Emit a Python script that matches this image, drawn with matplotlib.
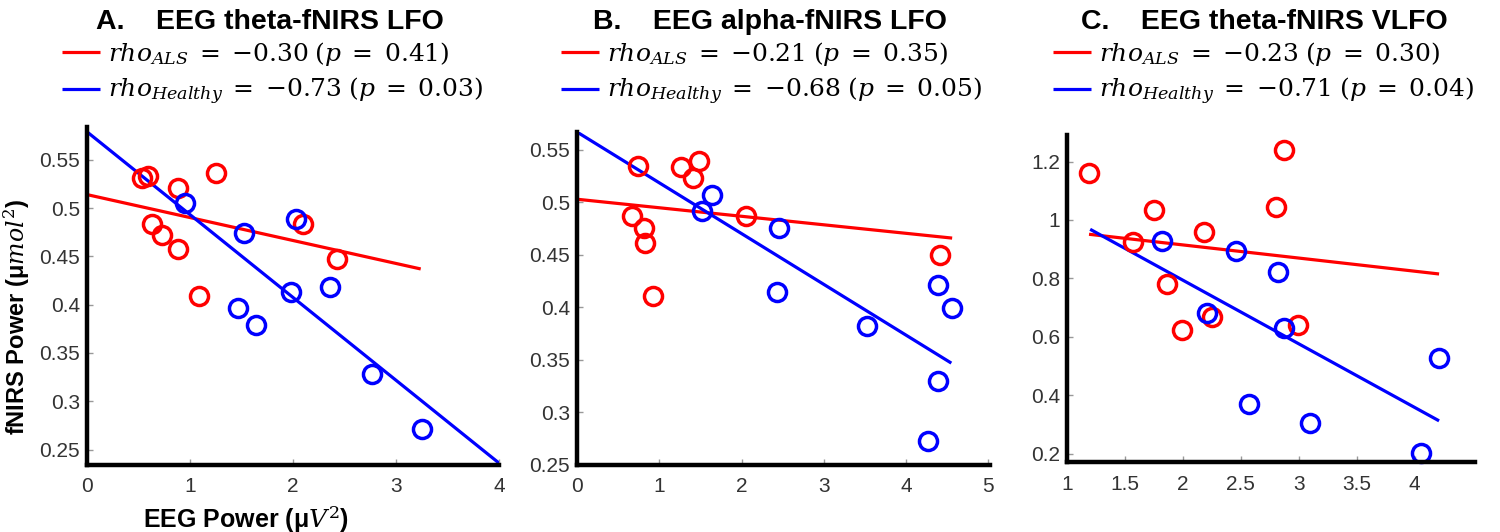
import numpy as np
import matplotlib
matplotlib.use('Agg')
import matplotlib.pyplot as plt
from matplotlib.ticker import FuncFormatter

plt.rcParams['font.family'] = 'Liberation Sans'
plt.rcParams['mathtext.fontset'] = 'dejavuserif'

# panel A: EEG theta - fNIRS LFO
a_als_x = [0.53, 0.59, 0.88, 1.25, 0.63, 0.73, 0.88, 1.09, 2.10, 2.43]
a_als_y = [0.531, 0.533, 0.521, 0.536, 0.484, 0.472, 0.458, 0.409, 0.484, 0.447]
a_hc_x = [0.95, 1.52, 2.03, 1.47, 1.64, 1.98, 2.36, 2.77, 3.25]
a_hc_y = [0.505, 0.474, 0.489, 0.397, 0.379, 0.413, 0.418, 0.328, 0.271]
a_als_fit_x = [0.0, 3.24]
a_als_fit_y = [0.514, 0.437]
a_hc_fit_x = [0.0, 4.0]
a_hc_fit_y = [0.579, 0.236]

# panel B: EEG alpha - fNIRS LFO
b_als_x = [0.74, 1.26, 1.48, 1.41, 0.67, 0.82, 0.83, 0.92, 2.06, 4.41]
b_als_y = [0.535, 0.534, 0.539, 0.523, 0.487, 0.476, 0.461, 0.411, 0.487, 0.450]
b_hc_x = [1.52, 1.64, 2.45, 2.43, 3.53, 4.39, 4.56, 4.39, 4.27]
b_hc_y = [0.492, 0.507, 0.476, 0.415, 0.382, 0.421, 0.399, 0.330, 0.273]
b_als_fit_x = [0.0, 4.56]
b_als_fit_y = [0.503, 0.466]
b_hc_fit_x = [0.0, 4.55]
b_hc_fit_y = [0.567, 0.347]

# panel C: EEG theta - fNIRS VLFO
c_als_x = [1.19, 2.87, 1.75, 2.80, 2.18, 1.57, 1.86, 2.25, 1.99, 2.99]
c_als_y = [1.160, 1.238, 1.034, 1.046, 0.958, 0.926, 0.781, 0.669, 0.623, 0.640]
c_hc_x = [1.82, 2.46, 2.82, 2.21, 2.87, 4.21, 2.57, 3.10, 4.05]
c_hc_y = [0.929, 0.895, 0.823, 0.680, 0.629, 0.528, 0.371, 0.306, 0.203]
c_als_fit_x = [1.19, 4.21]
c_als_fit_y = [0.951, 0.815]
c_hc_fit_x = [1.20, 4.21]
c_hc_fit_y = [0.968, 0.312]

titles = ['A.    EEG theta-fNIRS LFO', 'B.    EEG alpha-fNIRS LFO', 'C.    EEG theta-fNIRS VLFO']
als_labels = [r'$rho_{ALS}\;=\;{-}0.30\;(p\;=\;0.41)$', r'$rho_{ALS}\;=\;{-}0.21\;(p\;=\;0.35)$',
              r'$rho_{ALS}\;=\;{-}0.23\;(p\;=\;0.30)$']
hc_labels = [r'$rho_{Healthy}\;=\;{-}0.73\;(p\;=\;0.03)$', r'$rho_{Healthy}\;=\;{-}0.68\;(p\;=\;0.05)$',
             r'$rho_{Healthy}\;=\;{-}0.71\;(p\;=\;0.04)$']

W, H = 1500, 532
fig = plt.figure(figsize=(15, 5.32), dpi=100)

# axes boxes in pixels: left, right, top, bottom
boxes = [(87, 499, 127, 465), (577, 990, 132, 465), (1067, 1475, 135, 462)]
xlims = [(0, 4), (0, 5.02), (1, 4.52)]
ylims = [(0.234, 0.584), (0.25, 0.567), (0.171, 1.291)]
xticks = [[0, 1, 2, 3, 4], [0, 1, 2, 3, 4, 5], [1, 1.5, 2, 2.5, 3, 3.5, 4]]
yticks = [[0.25, 0.3, 0.35, 0.4, 0.45, 0.5, 0.55], [0.25, 0.3, 0.35, 0.4, 0.45, 0.5, 0.55],
          [0.2, 0.4, 0.6, 0.8, 1.0, 1.2]]
title_cx = [270, 770, 1264]
legend_x = [62, 561, 1053]

data = [
    (a_als_x, a_als_y, a_hc_x, a_hc_y, a_als_fit_x, a_als_fit_y, a_hc_fit_x, a_hc_fit_y),
    (b_als_x, b_als_y, b_hc_x, b_hc_y, b_als_fit_x, b_als_fit_y, b_hc_fit_x, b_hc_fit_y),
    (c_als_x, c_als_y, c_hc_x, c_hc_y, c_als_fit_x, c_als_fit_y, c_hc_fit_x, c_hc_fit_y),
]

fmt = FuncFormatter(lambda v, p: '%g' % v)

for i in range(3):
    l, r, t, b = boxes[i]
    ax = fig.add_axes([l / W, 1 - b / H, (r - l) / W, (b - t) / H])
    ax_x, ax_y, hx, hy, afx, afy, hfx, hfy = data[i]

    ln_a, = ax.plot(afx, afy, color='#ff0000', lw=2.3, solid_capstyle='butt')
    ln_h, = ax.plot(hfx, hfy, color='#0000ff', lw=2.3, solid_capstyle='butt')
    ax.plot(ax_x, ax_y, 'o', mfc='none', mec='#ff0000', mew=2.5, ms=13, clip_on=False)
    ax.plot(hx, hy, 'o', mfc='none', mec='#0000ff', mew=2.5, ms=13, clip_on=False)

    ax.set_xlim(*xlims[i])
    ax.set_ylim(*ylims[i])
    ax.set_xticks(xticks[i])
    ax.set_yticks(yticks[i])
    ax.xaxis.set_major_formatter(fmt)
    ax.yaxis.set_major_formatter(fmt)
    ax.tick_params(direction='in', length=4, width=1, color='#999999',
                   labelsize=15, labelcolor='#333333')
    ax.tick_params(axis='x', pad=9)
    ax.tick_params(axis='y', pad=5)

    for s in ['top', 'right']:
        ax.spines[s].set_visible(False)
    for s in ['left', 'bottom']:
        ax.spines[s].set_linewidth(3.2)
        ax.spines[s].set_color('black')

    fig.text(title_cx[i] / W, 1 - 22 / H, titles[i], ha='center', va='center',
             fontsize=20.5, fontweight='bold')

    ax.legend([ln_a, ln_h], [als_labels[i], hc_labels[i]], loc='upper left',
              bbox_to_anchor=(legend_x[i] / W, 1 - 40 / H), bbox_transform=fig.transFigure,
              frameon=False, fontsize=18, borderpad=0, borderaxespad=0,
              handlelength=1.5, handletextpad=0.35, labelspacing=0.32)

    if i == 0:
        ax.set_ylabel(r'fNIRS Power (μ$\mathit{mol}^2$)', fontsize=17, fontweight='bold')
        ax.yaxis.set_label_coords(-0.133, 0.44)
        ax.set_xlabel(r'EEG Power (μ$\mathit{V}^2$)', fontsize=18, fontweight='bold')
        ax.xaxis.set_label_coords(0.386, -0.115)

fig.savefig('out.png', dpi=100)
